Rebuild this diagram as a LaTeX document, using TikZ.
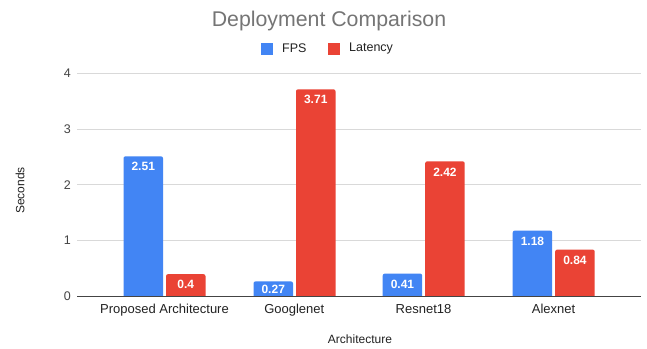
\documentclass[tikz,border=0pt]{standalone}
\usepackage{fontspec}
\setmainfont{Liberation Sans}
\definecolor{gblue}{HTML}{4285F4}
\definecolor{gred}{HTML}{EA4335}
\definecolor{gtitle}{HTML}{757575}
\definecolor{gtext}{HTML}{222222}
\definecolor{gtick}{HTML}{444444}
\definecolor{ggrid}{HTML}{D9D9D9}
\newcommand\chartbar[4]{%
  \fill[#3] (#1,296.5) [rounded corners=2pt] -- (#1,{296.5-#2*55.85}) -- ({#1+39.5},{296.5-#2*55.85}) [sharp corners] -- ({#1+39.5},296.5) -- cycle;
  \node[vallabel] at ({#1+19.75},{min(296.5-#2*55.85+10.5,289.3)}) {#4};}
\begin{document}
\begin{tikzpicture}[x=1pt,y=-1pt,
  vallabel/.style={text=white,font=\bfseries\fontsize{12}{14}\selectfont,inner sep=0pt},
  ticklabel/.style={text=gtick,font=\fontsize{12.5}{14}\selectfont,anchor=east,inner sep=0pt},
  catlabel/.style={text=gtext,font=\fontsize{13}{15}\selectfont,anchor=base,inner sep=0pt},
  gridline/.style={draw=ggrid,line width=0.8pt}]
\useasboundingbox[fill=white] (0,0) rectangle (647,348);
% title and legend
\node[text=gtitle,font=\fontsize{21.3}{24}\selectfont,anchor=base,inner sep=0pt] (title) at (329,27) {Deployment Comparison};
\fill[gblue] (261,42.5) rectangle (273,54.5);
\node[text=gtext,font=\fontsize{12.5}{14}\selectfont,anchor=west,inner sep=0pt] (lfps) at (282,48.5) {FPS};
\fill[gred] (328,42.5) rectangle (340,54.5);
\node[text=gtext,font=\fontsize{12.5}{14}\selectfont,anchor=west,inner sep=0pt] (llat) at (349,48.5) {Latency};
% grid
\foreach \v in {1,2,3,4} {
  \draw[gridline] (77,{296.5-\v*55.85}) -- (641,{296.5-\v*55.85});
}
\foreach \v in {0,1,2,3,4} {
  \node[ticklabel] (t\v) at (71,{296.5-\v*55.85}) {\v};
}
% bars
\chartbar{123.5}{2.51}{gblue}{2.51}
\chartbar{166}{0.4}{gred}{0.4}
\chartbar{253.5}{0.27}{gblue}{0.27}
\chartbar{296}{3.71}{gred}{3.71}
\chartbar{382.7}{0.41}{gblue}{0.41}
\chartbar{425.2}{2.42}{gred}{2.42}
\chartbar{512.7}{1.18}{gblue}{1.18}
\chartbar{555.2}{0.84}{gred}{0.84}
% axis
\draw[draw=gtick,line width=0.9pt] (77,296.5) -- (641,296.5);
% category labels
\node[catlabel] (c1) at (164.5,313) {Proposed Architecture};
\node[catlabel] (c2) at (294.3,313) {Googlenet};
\node[catlabel] (c3) at (423.5,313) {Resnet18};
\node[catlabel] (c4) at (553.5,313) {Alexnet};
% axis titles
\node[text=gtext,font=\fontsize{12}{14}\selectfont,anchor=base,inner sep=0pt] (xt) at (360,343) {Architecture};
\node[text=gtext,font=\fontsize{12}{14}\selectfont,rotate=90,inner sep=0pt] (yt) at (20,190.5) {Seconds};
\end{tikzpicture}
\end{document}
